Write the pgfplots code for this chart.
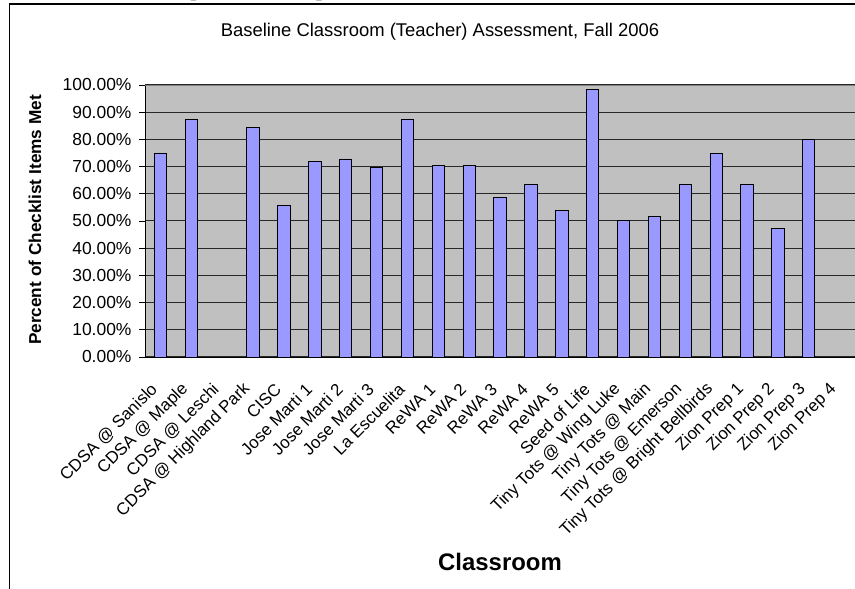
\documentclass[border=0pt]{standalone}
\usepackage{fontspec}
\setmainfont{Liberation Sans}
\usepackage{pgfplots}
\pgfplotsset{compat=1.18}
\definecolor{plotgray}{RGB}{192,192,192}
\definecolor{barfill}{RGB}{153,153,255}
\definecolor{gridc}{RGB}{40,40,40}
\begin{document}
\begin{tikzpicture}[x=1bp,y=1bp]
\useasboundingbox (0,0) rectangle (855,589);
% frame
\draw[black, line width=1.2bp] (9.5,0) -- (9.5,585) -- (855,585);
\begin{scope}
\clip (0,585.6) rectangle (855,589);
\node[font=\fontsize{40}{44}\selectfont\bfseries, anchor=base] at (190,596) {(};
\node[font=\fontsize{40}{44}\selectfont\bfseries, anchor=base] at (323,596) {)};
\end{scope}
\begin{axis}[
  at={(145bp,232bp)}, anchor=south west,
  scale only axis, width=710bp, height=272bp,
  xmin=-0.5, xmax=22.5, ymin=0, ymax=100,
  axis background/.style={fill=plotgray},
  axis x line*=bottom, axis y line*=left,
  axis line style={black, line width=0.9bp, -},
  ybar, bar width=12.3bp,
  ytick={0,10,...,100},
  ymajorgrids, major grid style={gridc, line width=1bp},
  y tick label style={font=\fontsize{17.5}{20}\selectfont, xshift=-4bp},
  yticklabel={\pgfmathprintnumber[fixed,fixed zerofill,precision=2,assume math mode=true]{\tick}\%},
  ytick style={black, line width=0.8bp},
  tick align=outside, major tick length=6bp,
  xtick={0,...,22},
  x tick style={draw=none},
  xticklabels={CDSA @ Sanislo, CDSA @ Maple, CDSA @ Leschi, CDSA @ Highland Park, CISC, Jose Marti 1, Jose Marti 2, Jose Marti 3, La Escuelita, ReWA 1, ReWA 2, ReWA 3, ReWA 4, ReWA 5, Seed of Life, Tiny Tots @ Wing Luke, Tiny Tots @ Main, Tiny Tots @ Emerson, Tiny Tots @ Bright Bellbirds, Zion Prep 1, Zion Prep 2, Zion Prep 3, Zion Prep 4},
  x tick label style={font=\fontsize{17}{19}\selectfont, yshift=-23bp, xshift=-5bp, rotate=45, anchor=east, inner sep=1bp},
  extra x ticks={-0.5,0.5,...,22.5},
  extra x tick labels={},
  extra x tick style={major tick length=6bp, tick style={draw=black, line width=0.8bp}, grid=none},
  clip=false,
]
\addplot[fill=barfill, draw=black, line width=0.8bp] coordinates {
(0,75.0) (1,87.5) (3,84.4) (4,55.6) (5,71.9) (6,72.8) (7,69.8) (8,87.5)
(9,70.4) (10,70.4) (11,58.5) (12,63.4) (13,54.0) (14,98.4) (15,50.2)
(16,51.6) (17,63.4) (18,74.8) (19,63.4) (20,47.1) (21,80.0)
};
\draw[gray, line width=0.8bp] (rel axis cs:0,1) -- (rel axis cs:1,1);
\end{axis}
\node[font=\fontsize{18.5}{21}\selectfont] at (440,557) {Baseline Classroom (Teacher) Assessment, Fall 2006};
\node[font=\fontsize{17.3}{20}\selectfont\bfseries, rotate=90] at (35,369) {Percent of Checklist Items Met};
\node[font=\fontsize{24}{28}\selectfont\bfseries] at (500,27) {Classroom};
\end{tikzpicture}
\end{document}
